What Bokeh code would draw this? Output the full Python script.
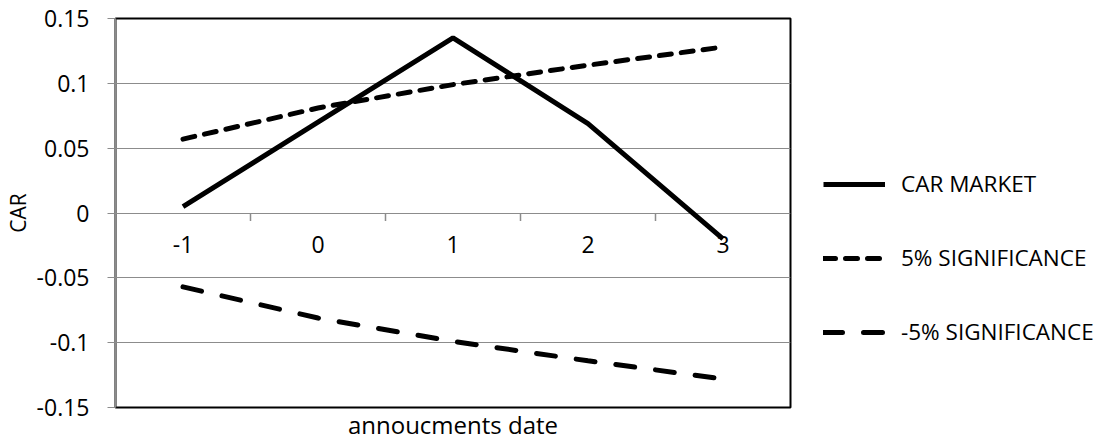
from math import pi
from bokeh.plotting import figure
from bokeh.models import Legend, LegendItem, FixedTicker, Range1d, LinearAxis
from bokeh.core.properties import value
from bokeh.embed import file_html
from bokeh.resources import INLINE

categories = ["-1", "0", "1", "2", "3"]
car_market = [0.005, 0.070, 0.135, 0.069, -0.020]
sig_pos = [0.057, 0.081, 0.099, 0.114, 0.128]
sig_neg = [-0.057, -0.081, -0.099, -0.114, -0.128]
y_ticks = [-0.15, -0.1, -0.05, 0, 0.05, 0.1, 0.15]
y_tick_labels = ["-0.15", "-0.1", "-0.05", "0", "0.05", "0.1", "0.15"]
x_title = "annoucments date"
y_title = "CAR"
series_names = ["CAR MARKET", "5% SIGNIFICANCE", "-5% SIGNIFICANCE"]

FONT = "Open Sans"
GRID = "#8c8c8c"
n = len(categories)
xs = [i + 0.5 for i in range(n)]

# layout-only constants (where the axis titles are centred, in data units)
X_TITLE_CENTER = 2.34
Y_TITLE_SPAN = (-0.15, 0.123)

p = figure(frame_width=675, frame_height=389,
           min_border_left=112, min_border_right=313,
           min_border_top=18, min_border_bottom=24,
           x_range=Range1d(0, n), y_range=Range1d(y_ticks[0], y_ticks[-1]),
           output_backend="svg", toolbar_location=None, x_axis_location=None)

p.outline_line_color = "black"
p.outline_line_width = 2
p.xgrid.visible = False
p.ygrid.grid_line_color = GRID
p.ygrid.grid_line_width = 1

ya = p.yaxis[0]
ya.ticker = FixedTicker(ticks=y_ticks)
ya.major_label_overrides = dict(zip(y_ticks, y_tick_labels))
ya.axis_line_color = GRID
ya.axis_line_width = 1.5
ya.major_tick_line_color = GRID
ya.major_tick_out = 8
ya.major_tick_in = 0
ya.minor_tick_line_color = None
ya.major_label_standoff = 18
ya.major_label_text_font = FONT
ya.major_label_text_font_size = "23px"
ya.major_label_text_color = "black"

# y title on its own tick-less axis so it can sit where the reference has it
yt = LinearAxis(ticker=FixedTicker(ticks=[]), bounds=Y_TITLE_SPAN,
                axis_line_color=None, major_tick_line_color=None,
                minor_tick_line_color=None, major_tick_out=0, major_tick_in=0,
                major_label_standoff=0,
                axis_label=y_title, axis_label_standoff=2,
                axis_label_text_font=FONT, axis_label_text_font_size="21px",
                axis_label_text_font_style="normal", axis_label_text_color="black")
p.add_layout(yt, "left")

xa = LinearAxis(ticker=FixedTicker(ticks=[]), bounds=(0, 2 * X_TITLE_CENTER),
                axis_line_color=None, major_tick_line_color=None,
                minor_tick_line_color=None, major_tick_out=0, major_tick_in=0,
                major_label_standoff=0,
                axis_label=x_title, axis_label_standoff=0,
                axis_label_text_font=FONT, axis_label_text_font_size="24px",
                axis_label_text_font_style="normal", axis_label_text_color="black")
p.add_layout(xa, "below")

# category axis drawn along y = 0
bounds = list(range(1, n))
p.ray(x=bounds, y=[0] * len(bounds), length=8, length_units="screen",
      angle=-pi / 2, line_color=GRID, line_width=1.5)
p.text(x=xs, y=[0] * n, text=categories, text_align="center",
       text_baseline="middle", y_offset=31, text_font=value(FONT),
       text_font_size="23px", text_color="black")

r1 = p.line(xs, car_market, line_color="black", line_width=5)
r2 = p.line(xs, sig_pos, line_color="black", line_width=5,
            line_dash="12 10", line_cap="round")
r3 = p.line(xs, sig_neg, line_color="black", line_width=5,
            line_dash="19 21", line_cap="round")

legend = Legend(items=[LegendItem(label=nm, renderers=[r])
                       for nm, r in zip(series_names, [r1, r2, r3])],
                location=(33, 60), orientation="vertical",
                glyph_width=62, glyph_height=20, label_standoff=16,
                spacing=43, padding=0, margin=0, label_height=20,
                border_line_color=None, background_fill_alpha=0,
                label_text_font=FONT, label_text_font_size="22.5px",
                label_text_color="black")
p.add_layout(legend, "right")

open("out.html", "w").write(file_html(p, INLINE))
